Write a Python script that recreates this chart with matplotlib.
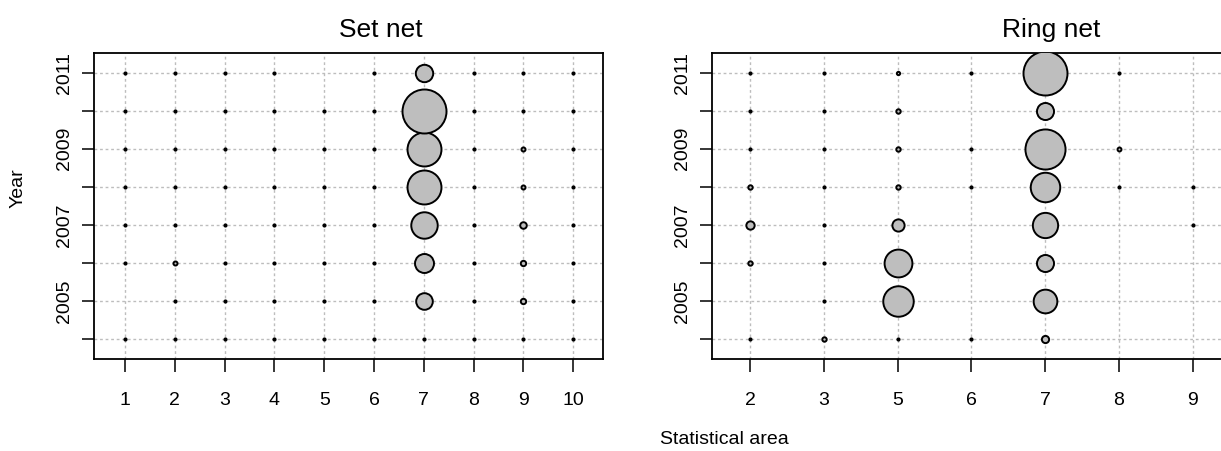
import numpy as np
import matplotlib.pyplot as plt

plt.rcParams['font.family'] = ['Liberation Sans', 'DejaVu Sans']

nan = np.nan

# === Data: relative catch by statistical area, values listed for years 2004..2011 ===
years = [2004, 2005, 2006, 2007, 2008, 2009, 2010, 2011]
year_labels = ["", "2005", "", "2007", "", "2009", "", "2011"]

set_areas = [1, 2, 3, 4, 5, 6, 7, 8, 9, 10]
set_catch = [
    [0, nan, 0, 0, 0, 0, 0, 0],            # area 1
    [0, 0, 0.8, 0, 0, 0, 0, 0],            # area 2
    [0, 0, 0, 0, 0, 0, 0, 0],              # area 3
    [0, 0, 0, 0, 0, 0, 0, 0],              # area 4
    [0, 0, 0, 0, 0, 0, 0, nan],            # area 5
    [0, 0, 0, 0, 0, 0, 0, 0],              # area 6
    [0, 13.4, 17.5, 34, 56, 56, 94, 14.7], # area 7
    [0, 0, 0, 0, 0, 0, 0, 0],              # area 8
    [0, 1.4, 1.4, 2.1, 0.8, 0.8, 0, 0],    # area 9
    [0, 0, 0, 0, 0, 0, 0, 0],              # area 10
]

ring_areas = [2, 3, 5, 6, 7, 8, 9]
ring_catch = [
    [0, nan, 1.0, 3.6, 1.0, 0, 0, 0],      # area 2
    [1.0, 0, 0, 0, 0, 0, 0, 0],            # area 3
    [0, 48, 40, 7.7, 1.0, 1.0, 1.0, 0.56], # area 5
    [0, nan, nan, nan, 0, 0, nan, 0],      # area 6
    [2.7, 29, 15, 33, 45, 83, 15, 100],    # area 7
    [nan, nan, nan, nan, 0, 0.8, nan, 0],  # area 8
    [nan, nan, nan, 0, 0, nan, nan, nan],  # area 9
]

R_MAX = 22.0   # px radius of the biggest bubble in a panel
R_MIN = 1.1    # zero catch still gets a dot


def draw_panel(ax, areas, catch, xlim, title, title_x):
    vmax = np.nanmax(np.array(catch, dtype=float))
    for i, col in enumerate(catch):
        for yr, v in zip(years, col):
            if np.isnan(v):
                continue
            r = max(R_MIN, R_MAX * np.sqrt(v / vmax))
            s = (2 * r * 0.72) ** 2
            ax.scatter(i + 1, yr, s=s, facecolor="#BEBEBE", edgecolor="black",
                       linewidth=1.4, zorder=3)

    ax.set_xlim(*xlim)
    ax.set_ylim(2003.47, 2011.52)
    ax.set_xticks(range(1, len(areas) + 1))
    ax.set_xticklabels([str(a) for a in areas])
    ax.set_yticks(years)
    ax.set_yticklabels(year_labels)
    plt.setp(ax.get_yticklabels(), rotation=90, va="center")

    ax.set_axisbelow(True)
    ax.grid(True, color="#BDBDBD", linestyle=(0, (2, 2)), linewidth=1)
    ax.tick_params(direction="out", length=9, width=1.1, labelsize=14)
    ax.tick_params(axis="x", pad=15)
    ax.tick_params(axis="y", pad=6)
    for sp in ax.spines.values():
        sp.set_linewidth(1.3)
    fig.text(title_x, 0.918, title, ha="center", va="baseline", fontsize=19)


fig = plt.figure(figsize=(12.21, 4.51), dpi=100)

ax1 = fig.add_axes([94 / 1221, 0.204, 509 / 1221, 0.6785])
draw_panel(ax1, set_areas, set_catch, (0.377, 10.60), "Set net", 381 / 1221)

ax2 = fig.add_axes([712 / 1221, 0.204, 548 / 1221, 0.6785])
draw_panel(ax2, ring_areas, ring_catch, (0.486, 7.91), "Ring net", 1051 / 1221)

fig.text(18 / 1221, 1 - 188 / 451, "Year", rotation=90, ha="center", va="center", fontsize=14)
fig.text(724 / 1221, 1 - 440 / 451, "Statistical area", ha="center", va="center", fontsize=14)

plt.savefig("out.png", dpi=100)
